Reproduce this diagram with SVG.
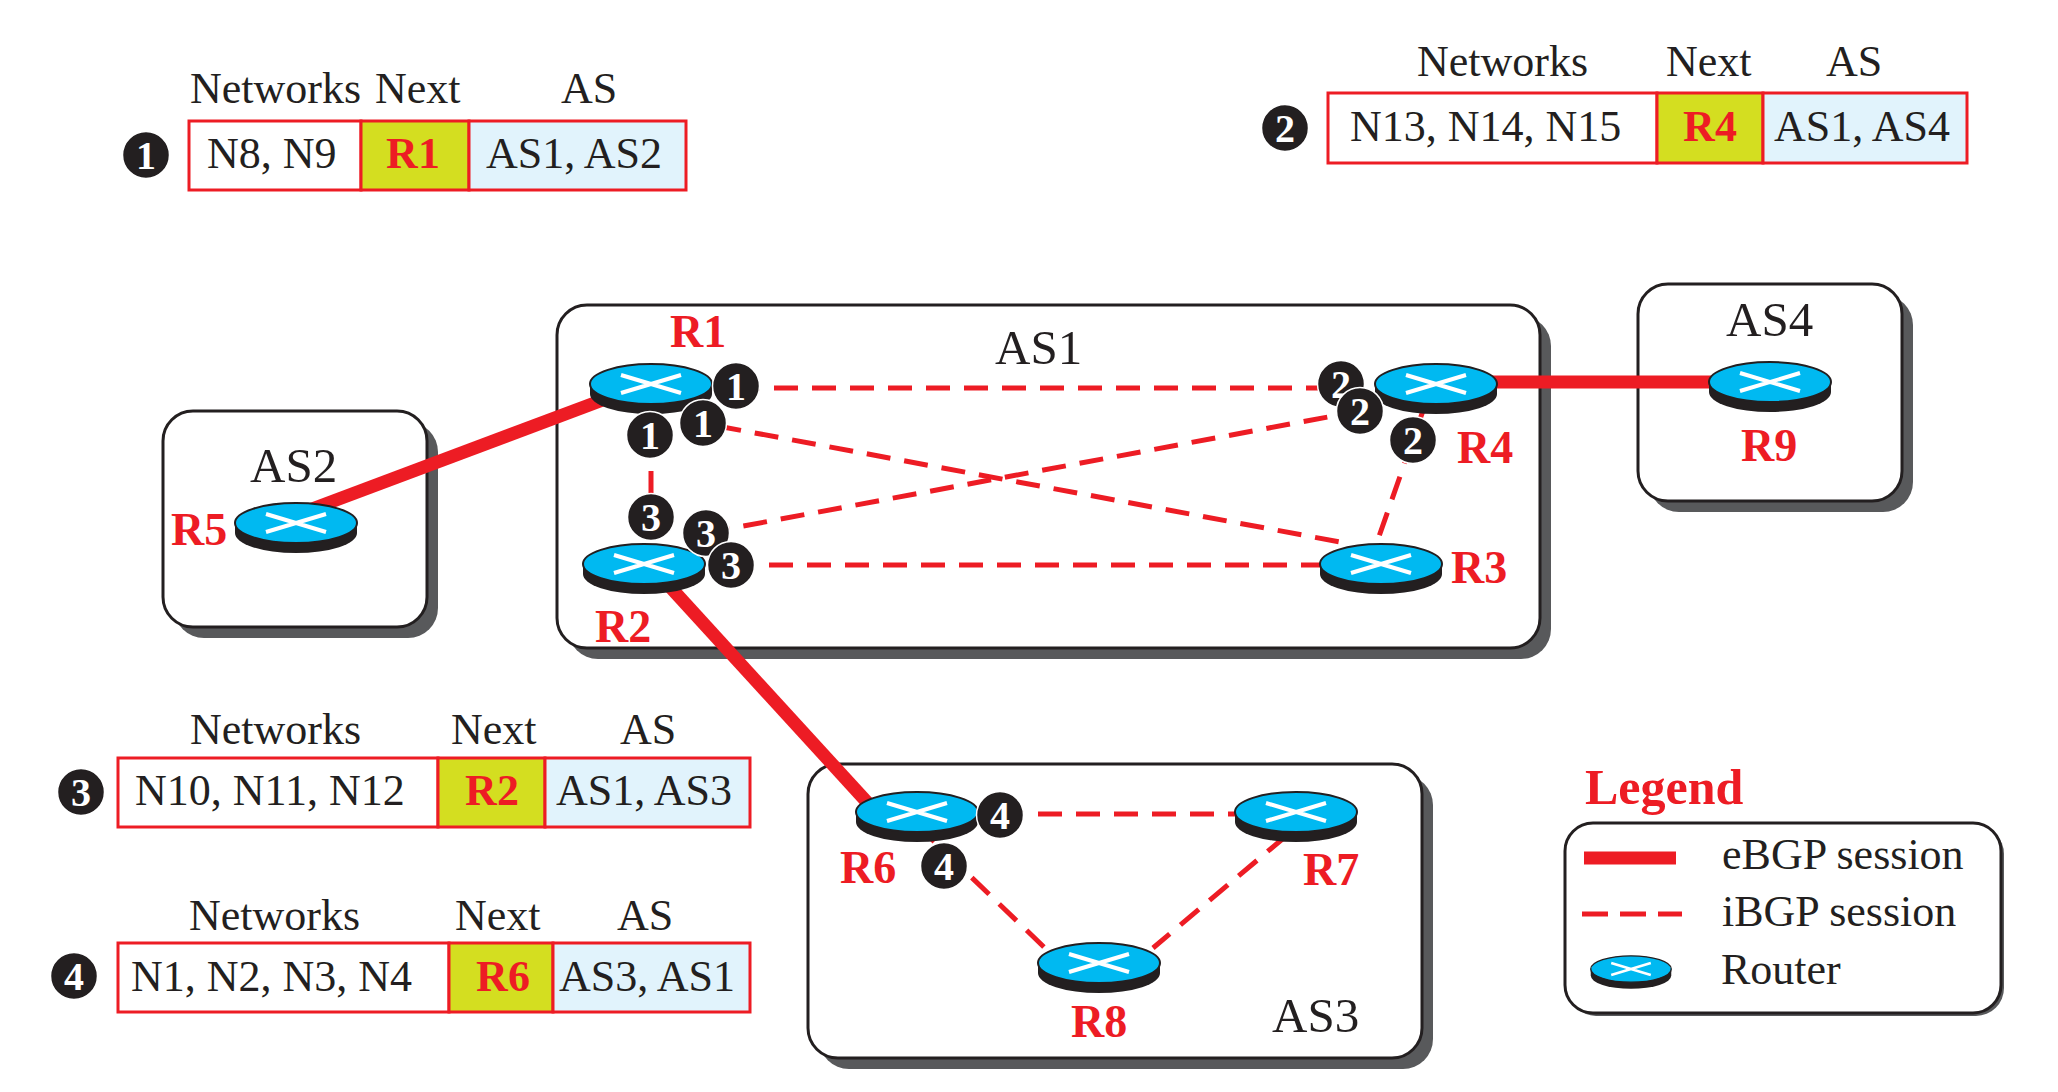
<svg xmlns="http://www.w3.org/2000/svg" xmlns:xlink="http://www.w3.org/1999/xlink" width="2058" height="1092" viewBox="0 0 2058 1092">
<style>
text{font-family:"Liberation Serif","Times New Roman",serif}
.t{font-size:44px;fill:#231f20}
.as{font-size:49px;fill:#231f20}
.rl{font-size:46px;font-weight:bold;fill:#ed1c24}
.nx{font-size:44px;font-weight:bold;fill:#ed1c24;text-anchor:middle}
.bd{font-size:40px;font-weight:bold;fill:#fff;text-anchor:middle}
.cell{stroke:#ed1c24;stroke-width:3}
.box{fill:#fff;stroke:#231f20;stroke-width:3}
.shd{fill:#58595b}
.eb{stroke:#ed1c24;stroke-width:13;fill:none}
.ib{stroke:#ed1c24;stroke-width:5;stroke-dasharray:24 14;fill:none}
</style>
<defs>
<g id="router">
<path d="M-61 0 L-61 10 A61 20 0 0 0 61 10 L61 0 Z" fill="#231f20"/>
<ellipse cx="0" cy="0" rx="61" ry="20" fill="#00b9f1" stroke="#231f20" stroke-width="2"/>
<path d="M-30 -9 L30 9 M-30 9 L30 -9" stroke="#fff" stroke-width="4"/>
</g>
<circle id="badge" r="23.5" fill="#231f20" stroke="#fff" stroke-width="1.5"/>
</defs>
<rect width="2058" height="1092" fill="#fff"/>

<!-- Tables -->
<g id="table1">
<use xlink:href="#badge" x="146" y="155"/><text class="bd" x="146" y="169">1</text>
<text class="t" x="190" y="103">Networks</text><text class="t" x="375" y="103">Next</text><text class="t" x="561" y="103">AS</text>
<rect class="cell" x="189" y="121" width="172" height="69" fill="#fff"/>
<rect class="cell" x="361" y="121" width="108" height="69" fill="#d4de20"/>
<rect class="cell" x="469" y="121" width="217" height="69" fill="#e1f3fc"/>
<text class="t" x="207" y="168">N8, N9</text>
<text class="nx" x="413" y="168">R1</text>
<text class="t" x="486" y="168">AS1, AS2</text>
</g>
<g id="table2">
<use xlink:href="#badge" x="1285" y="128"/><text class="bd" x="1285" y="142">2</text>
<text class="t" x="1417" y="76">Networks</text><text class="t" x="1666" y="76">Next</text><text class="t" x="1826" y="76">AS</text>
<rect class="cell" x="1328" y="93" width="329" height="70" fill="#fff"/>
<rect class="cell" x="1657" y="93" width="106" height="70" fill="#d4de20"/>
<rect class="cell" x="1763" y="93" width="204" height="70" fill="#e1f3fc"/>
<text class="t" x="1350" y="141">N13, N14, N15</text>
<text class="nx" x="1710" y="141">R4</text>
<text class="t" x="1774" y="141">AS1, AS4</text>
</g>
<g id="table3">
<use xlink:href="#badge" x="81" y="792"/><text class="bd" x="81" y="806">3</text>
<text class="t" x="190" y="744">Networks</text><text class="t" x="451" y="744">Next</text><text class="t" x="620" y="744">AS</text>
<rect class="cell" x="118" y="758" width="320" height="69" fill="#fff"/>
<rect class="cell" x="438" y="758" width="107" height="69" fill="#d4de20"/>
<rect class="cell" x="545" y="758" width="205" height="69" fill="#e1f3fc"/>
<text class="t" x="135" y="805">N10, N11, N12</text>
<text class="nx" x="492" y="805">R2</text>
<text class="t" x="556" y="805">AS1, AS3</text>
</g>
<g id="table4">
<use xlink:href="#badge" x="74" y="976"/><text class="bd" x="74" y="990">4</text>
<text class="t" x="189" y="930">Networks</text><text class="t" x="455" y="930">Next</text><text class="t" x="617" y="930">AS</text>
<rect class="cell" x="118" y="943" width="331" height="69" fill="#fff"/>
<rect class="cell" x="449" y="943" width="104" height="69" fill="#d4de20"/>
<rect class="cell" x="553" y="943" width="197" height="69" fill="#e1f3fc"/>
<text class="t" x="131" y="991">N1, N2, N3, N4</text>
<text class="nx" x="503" y="991">R6</text>
<text class="t" x="559" y="991">AS3, AS1</text>
</g>

<!-- AS boxes -->
<g id="AS1">
<rect class="shd" x="568" y="316" width="983" height="343" rx="30"/>
<rect class="box" x="557" y="305" width="983" height="343" rx="30"/>
<text class="as" x="995" y="364">AS1</text>
</g>
<g id="AS2">
<rect class="shd" x="174" y="422" width="264" height="216" rx="30"/>
<rect class="box" x="163" y="411" width="264" height="216" rx="30"/>
<text class="as" x="250" y="482">AS2</text>
</g>
<g id="AS3">
<rect class="shd" x="819" y="775" width="614" height="294" rx="30"/>
<rect class="box" x="808" y="764" width="614" height="294" rx="30"/>
<text class="as" x="1272" y="1032">AS3</text>
</g>
<g id="AS4">
<rect class="shd" x="1649" y="295" width="264" height="217" rx="30"/>
<rect class="box" x="1638" y="284" width="264" height="217" rx="30"/>
<text class="as" x="1726" y="336">AS4</text>
</g>

<!-- Connectors -->
<g id="connectors">
<line class="eb" x1="296" y1="515" x2="640" y2="386"/>
<line class="eb" x1="1436" y1="382" x2="1770" y2="382"/>
<line class="eb" x1="662" y1="578" x2="876" y2="812"/>
<line class="ib" x1="736" y1="388" x2="1341" y2="388"/>
<line class="ib" x1="680" y1="419" x2="1340" y2="542"/>
<line class="ib" x1="706" y1="533" x2="1360" y2="411"/>
<line class="ib" x1="731" y1="565" x2="1325" y2="565"/>
<line class="ib" x1="651" y1="433" x2="651" y2="517"/>
<line class="ib" x1="1425" y1="405" x2="1376" y2="545"/>
<line class="ib" x1="1000" y1="814" x2="1240" y2="814"/>
<line class="ib" x1="917" y1="825" x2="1045" y2="948"/>
<line class="ib" x1="1286" y1="836" x2="1153" y2="948"/>
</g>

<!-- Routers -->
<g id="R1"><use xlink:href="#router" x="651" y="384"/><text class="rl" x="670" y="347">R1</text></g>
<g id="R2"><use xlink:href="#router" x="644" y="564"/><text class="rl" x="595" y="642">R2</text></g>
<g id="R3"><use xlink:href="#router" x="1381" y="564"/><text class="rl" x="1451" y="583">R3</text></g>
<g id="R4"><use xlink:href="#router" x="1436" y="384"/><text class="rl" x="1457" y="463">R4</text></g>
<g id="R5"><use xlink:href="#router" x="296" y="523"/><text class="rl" x="171" y="545">R5</text></g>
<g id="R6"><use xlink:href="#router" x="917" y="812"/><text class="rl" x="840" y="883">R6</text></g>
<g id="R7"><use xlink:href="#router" x="1296" y="812"/><text class="rl" x="1303" y="885">R7</text></g>
<g id="R8"><use xlink:href="#router" x="1099" y="963"/><text class="rl" x="1071" y="1037">R8</text></g>
<g id="R9"><use xlink:href="#router" x="1770" y="382"/><text class="rl" x="1741" y="461">R9</text></g>

<!-- Badges -->
<g id="badges">
<use xlink:href="#badge" x="736" y="386"/><text class="bd" x="736" y="400">1</text>
<use xlink:href="#badge" x="703" y="423"/><text class="bd" x="703" y="437">1</text>
<use xlink:href="#badge" x="650" y="435"/><text class="bd" x="650" y="449">1</text>
<use xlink:href="#badge" x="651" y="517"/><text class="bd" x="651" y="531">3</text>
<use xlink:href="#badge" x="706" y="533"/><text class="bd" x="706" y="547">3</text>
<use xlink:href="#badge" x="731" y="565"/><text class="bd" x="731" y="579">3</text>
<use xlink:href="#badge" x="1341" y="384"/><text class="bd" x="1341" y="398">2</text>
<use xlink:href="#badge" x="1360" y="411"/><text class="bd" x="1360" y="425">2</text>
<use xlink:href="#badge" x="1413" y="440"/><text class="bd" x="1413" y="454">2</text>
<use xlink:href="#badge" x="1000" y="815"/><text class="bd" x="1000" y="829">4</text>
<use xlink:href="#badge" x="944" y="866"/><text class="bd" x="944" y="880">4</text>
</g>

<!-- Legend -->
<g id="legend">
<text x="1585" y="804" style="font-size:50px;font-weight:bold;fill:#ed1c24">Legend</text>
<rect class="shd" x="1568" y="826" width="436" height="190" rx="28"/>
<rect class="box" x="1565" y="823" width="436" height="190" rx="28"/>
<line x1="1584" y1="858" x2="1676" y2="858" stroke="#ed1c24" stroke-width="13"/>
<line x1="1582" y1="914" x2="1682" y2="914" stroke="#ed1c24" stroke-width="5" stroke-dasharray="26 12"/>
<use xlink:href="#router" transform="translate(1631 969) scale(0.66)"/>
<text class="t" x="1722" y="869">eBGP session</text>
<text class="t" x="1722" y="926">iBGP session</text>
<text class="t" x="1721" y="984">Router</text>
</g>
</svg>
